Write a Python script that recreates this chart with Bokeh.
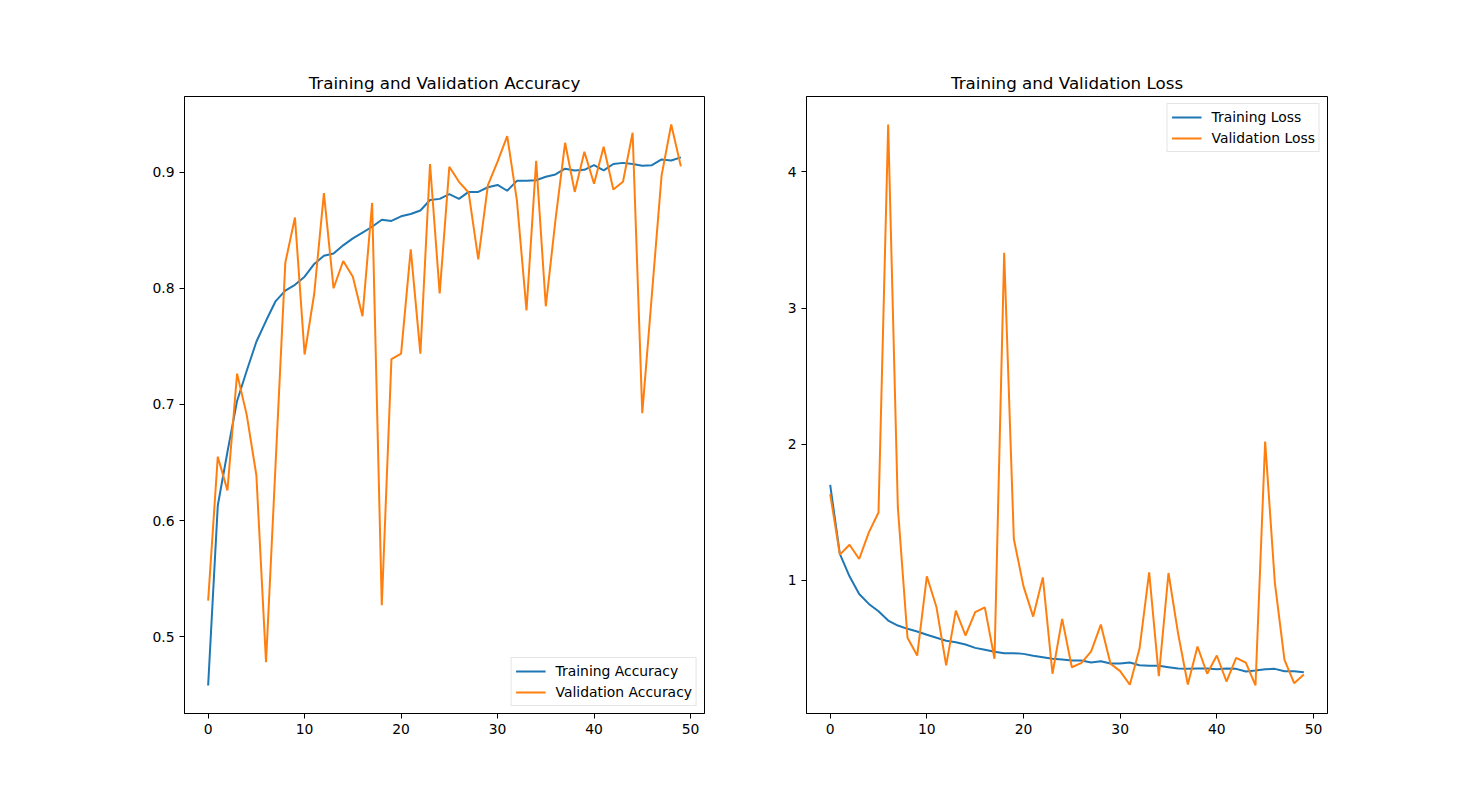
from bokeh.plotting import figure
from bokeh.layouts import row
from bokeh.models import FixedTicker, Range1d
from bokeh.embed import file_html
from bokeh.resources import INLINE

epochs = list(range(50))

train_acc = [0.458, 0.613, 0.659, 0.703, 0.729, 0.754, 0.772, 0.789, 0.798, 0.803,
             0.810, 0.821, 0.828, 0.830, 0.837, 0.843, 0.848, 0.853, 0.859, 0.858,
             0.862, 0.864, 0.867, 0.876, 0.877, 0.881, 0.877, 0.883, 0.883, 0.887,
             0.889, 0.884, 0.8925, 0.8925, 0.893, 0.896, 0.898, 0.903, 0.9015, 0.902,
             0.906, 0.9015, 0.907, 0.908, 0.907, 0.9055, 0.906, 0.911, 0.910, 0.9127]
val_acc = [0.531, 0.655, 0.626, 0.7265, 0.691, 0.639, 0.478, 0.650, 0.822, 0.861,
           0.743, 0.7955, 0.882, 0.800, 0.8235, 0.810, 0.776, 0.8735, 0.527, 0.739,
           0.7437, 0.8336, 0.7437, 0.907, 0.7955, 0.9046, 0.8917, 0.8825, 0.825, 0.8888,
           0.909, 0.931, 0.876, 0.781, 0.9098, 0.7845, 0.8586, 0.9253, 0.883, 0.9175,
           0.890, 0.9218, 0.885, 0.8917, 0.934, 0.6925, 0.795, 0.897, 0.941, 0.905]
train_loss = [1.70, 1.193, 1.029, 0.899, 0.826, 0.772, 0.704, 0.667, 0.643, 0.623,
              0.599, 0.577, 0.555, 0.545, 0.528, 0.503, 0.489, 0.474, 0.464, 0.464,
              0.459, 0.445, 0.434, 0.423, 0.418, 0.410, 0.410, 0.395, 0.405, 0.388,
              0.388, 0.395, 0.376, 0.371, 0.371, 0.361, 0.351, 0.349, 0.351, 0.351,
              0.346, 0.351, 0.349, 0.329, 0.337, 0.346, 0.349, 0.332, 0.332, 0.324]
val_loss = [1.633, 1.188, 1.261, 1.156, 1.352, 1.498, 4.348, 1.535, 0.577, 0.447,
            1.029, 0.801, 0.374, 0.777, 0.594, 0.765, 0.801, 0.423, 3.406, 1.303,
            0.955, 0.733, 1.021, 0.313, 0.716, 0.361, 0.393, 0.478, 0.674, 0.386,
            0.332, 0.232, 0.496, 1.058, 0.295, 1.053, 0.606, 0.234, 0.513, 0.313,
            0.447, 0.256, 0.430, 0.395, 0.227, 2.019, 0.985, 0.415, 0.244, 0.307]

x_ticks = [0, 10, 20, 30, 40, 50]
acc_ticks = [0.5, 0.6, 0.7, 0.8, 0.9]
loss_ticks = [1, 2, 3, 4]

titles = ["Training and Validation Accuracy", "Training and Validation Loss"]
labels_acc = ["Training Accuracy", "Validation Accuracy"]
labels_loss = ["Training Loss", "Validation Loss"]

BLUE = "#1f77b4"
ORANGE = "#ff7f0e"
FONT = "DejaVu Sans"


def padded(lo, hi, frac=0.05):
    d = (hi - lo) * frac
    return lo - d, hi + d


def make_panel(title, ys, labels, yticks, width, bl, br, legend_loc):
    x0, x1 = padded(min(epochs), max(epochs))
    allv = ys[0] + ys[1]
    y0, y1 = padded(min(allv), max(allv))
    p = figure(width=width, height=793, output_backend="svg", toolbar_location=None,
               x_range=Range1d(x0, x1), y_range=Range1d(y0, y1),
               min_border_left=bl, min_border_right=br,
               min_border_top=96, min_border_bottom=80,
               title=title)
    p.title.align = "center"
    p.title.text_font = FONT
    p.title.text_font_size = "16.7px"
    p.title.text_font_style = "normal"
    p.title.text_color = "black"
    p.title.standoff = 7
    p.outline_line_color = "black"
    p.outline_line_width = 1
    p.outline_line_alpha = 1
    p.xgrid.visible = False
    p.ygrid.visible = False
    p.background_fill_color = "white"
    p.border_fill_color = "white"
    for ax, ticks in ((p.xaxis[0], x_ticks), (p.yaxis[0], yticks)):
        ax.ticker = FixedTicker(ticks=ticks)
        ax.axis_line_color = "black"
        ax.major_tick_line_color = "black"
        ax.major_tick_out = 5
        ax.major_tick_in = 0
        ax.minor_tick_line_color = None
        ax.major_label_text_font = FONT
        ax.major_label_text_font_size = "13.9px"
        ax.major_label_text_color = "black"
        ax.major_label_standoff = 5
    p.line(epochs, ys[0], color=BLUE, line_width=2, legend_label=labels[0])
    p.line(epochs, ys[1], color=ORANGE, line_width=2, legend_label=labels[1])
    lg = p.legend[0]
    lg.location = legend_loc
    lg.margin = 7
    lg.padding = 4
    lg.spacing = 3
    lg.glyph_width = 30
    lg.glyph_height = 18
    lg.label_height = 18
    lg.label_standoff = 10
    lg.label_text_font = FONT
    lg.label_text_font_size = "13.9px"
    lg.label_text_color = "black"
    lg.border_line_color = "#cccccc"
    lg.border_line_width = 1
    lg.background_fill_alpha = 0.8
    return p


p1 = make_panel(titles[0], [train_acc, val_acc], labels_acc, acc_ticks, 745, 184, 41, "bottom_right")
p2 = make_panel(titles[1], [train_loss, val_loss], labels_loss, loss_ticks, 723, 61, 141, "top_right")

layout = row(p1, p2)
open("out.html", "w").write(file_html(layout, INLINE))
